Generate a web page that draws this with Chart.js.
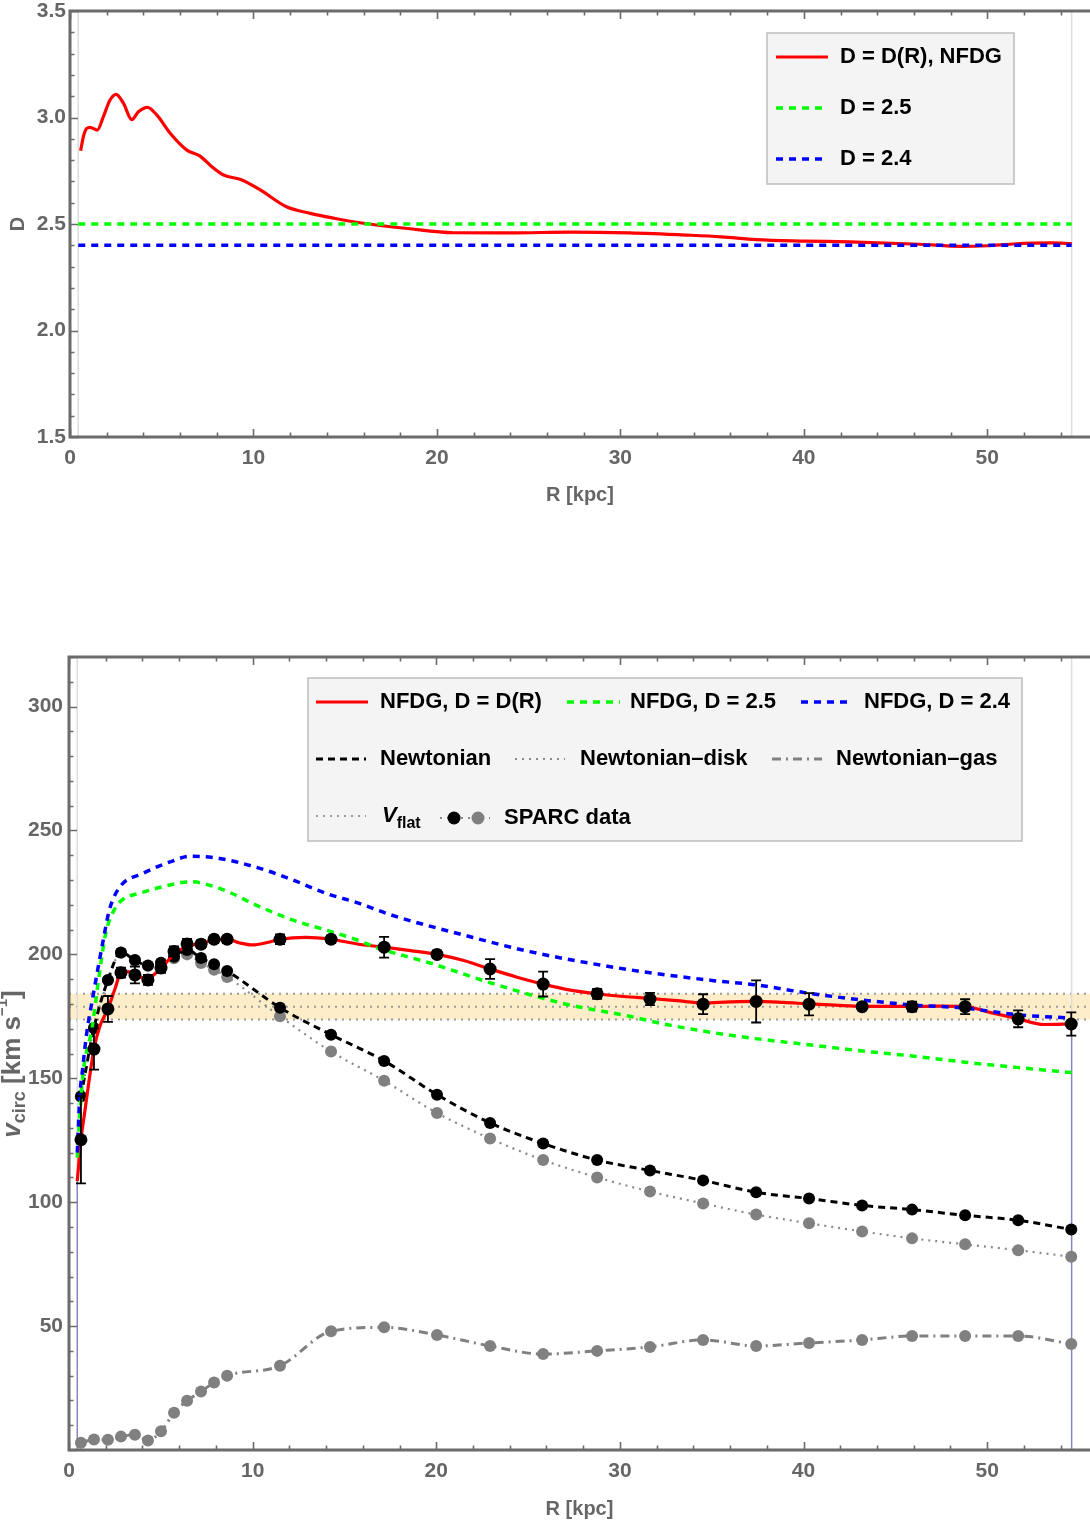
<!DOCTYPE html>
<html>
<head>
<meta charset="utf-8">
<script src="https://cdn.jsdelivr.net/npm/chart.js@4.4.0/dist/chart.umd.min.js"></script>
<style>
  html, body { margin: 0; padding: 0; background: #fff; }
  #wrap { position: relative; width: 1090px; height: 1526px; }
  .box { position: absolute; left: 0; width: 1090px; }
  #topBox { top: 0; height: 520px; }
  #botBox { top: 640px; height: 886px; }
</style>
</head>
<body>
<div id="wrap">
  <div class="box" id="topBox"><canvas id="dChart" width="1090" height="520"></canvas></div>
  <div class="box" id="botBox"><canvas id="vChart" width="1090" height="886"></canvas></div>
</div>
<script>
// ---- top panel: D(R) ----
const dCurveR = [0.58, 0.73, 0.91, 1.09, 1.49, 1.82, 2.18, 2.51, 2.91, 3.37, 3.73, 4.22, 4.73, 5.46, 6.37, 7.09, 7.73, 8.37,
  9.37, 10.37, 11.8, 13.1, 14.4, 15.8, 18.4, 20.9, 24.0, 27.3, 30.5, 33.6, 35.5, 37.4, 40.0, 42.5, 46.3, 48.6, 50.0, 51.4, 53.5, 54.6];
const dCurveD = [2.844, 2.91, 2.949, 2.954, 2.941, 3.004, 3.082, 3.109, 3.067, 2.99, 3.027, 3.048, 3.012, 2.926, 2.847, 2.819, 2.769, 2.730,
  2.707, 2.66, 2.581, 2.55, 2.527, 2.506, 2.479, 2.459, 2.458, 2.462, 2.458, 2.448, 2.44, 2.427, 2.42, 2.416, 2.405, 2.395, 2.398, 2.406, 2.411, 2.408];
const dFixed = [2.5, 2.4];
const rRange = [0.45, 54.6];   // radial range of the model curves [kpc]
const xMax = 55.6;

// ---- bottom panel: rotation curve ----
const sparcR = [0.65, 1.36, 2.12, 2.83, 3.59, 4.30, 5.01, 5.72, 6.43, 7.19, 7.90, 8.61,
  11.49, 14.27, 17.16, 20.04, 22.93, 25.82, 28.76, 31.64, 34.53, 37.42, 40.30, 43.19, 45.91, 48.80, 51.69, 54.58];
const vObs = [125.2, 161.8, 178.0, 192.6, 191.7, 189.7, 194.5, 201.2, 204.2, 204.1, 206.1, 206.1,
  206.1, 206.1, 202.9, 200.0, 194.1, 188.0, 184.1, 182.0, 179.9, 181.0, 179.9, 178.9, 178.9, 178.9, 174.0, 171.9];
const vErr = [17.6, 8.3, 5.2, 2.0, 3.4, 2.0, 2.0, 2.0, 2.0, 1.5, 1.5, 1.5,
  2.0, 1.5, 4.2, 1.5, 4.0, 5.0, 2.0, 2.5, 4.0, 8.5, 4.5, 1.0, 2.0, 3.0, 3.4, 4.7];
const vNewt = [142.7, 170.3, 189.7, 200.8, 197.7, 195.5, 196.6, 199.0, 201.8, 198.5, 196.0, 193.3,
  178.5, 167.6, 157.0, 143.4, 132.0, 123.7, 117.0, 112.8, 108.8, 104.0, 101.5, 98.7, 97.0, 94.7, 92.7, 89.0];
const vDisk = [142.6, 170.2, 189.6, 200.7, 197.6, 195.4, 196.4, 198.4, 200.0, 196.5, 193.8, 190.9,
  175.0, 160.8, 149.0, 136.0, 125.7, 117.0, 110.0, 104.3, 99.5, 95.0, 91.5, 88.2, 85.4, 83.0, 80.6, 78.0];
const vGas = [2.9, 4.2, 4.1, 5.4, 6.2, 3.8, 7.6, 15.0, 19.9, 23.6, 27.2, 30.0,
  34.0, 47.9, 49.5, 46.4, 42.0, 38.7, 40.0, 41.6, 44.4, 42.0, 43.2, 44.4, 46.0, 46.0, 46.0, 42.8];

const nfdgR = [0.45, 0.65, 0.85, 1.1, 1.36, 1.68, 2.12, 2.5, 2.83, 3.2, 3.59, 4.0, 4.30, 4.65, 5.01, 5.72, 6.43, 7.19, 7.90, 8.61,
  9.3, 10.0, 10.8, 11.49, 12.9, 14.27, 15.7, 17.16, 18.6, 20.04, 21.5, 22.93, 24.4, 25.82, 27.3, 28.76, 30.2, 31.64, 33.1,
  34.53, 36.0, 37.42, 38.9, 40.3, 41.7, 43.19, 45.91, 47.3, 48.8, 50.2, 51.69, 53.1, 54.6];
const nfdgV = [108.5, 125.2, 136.0, 149.4, 161.8, 171.0, 178.0, 186.0, 192.6, 193.0, 192.0, 190.5, 189.7, 192.0, 194.4, 200.0, 203.3, 204.4, 205.8, 206.1,
  204.6, 203.8, 204.8, 206.1, 206.9, 206.1, 204.2, 202.9, 201.5, 200.0, 197.5, 194.1, 190.8, 188.0, 185.6, 184.1, 183.0, 182.2, 181.3,
  180.4, 180.8, 181.0, 180.6, 180.0, 179.5, 179.0, 179.0, 179.1, 178.9, 176.5, 174.0, 171.7, 171.9];
const d25R = [0.45, 0.73, 1.27, 1.65, 2.0, 2.5, 2.9, 4.0, 5.5, 6.6, 8.2, 10.4, 12.2, 14.0, 15.7, 16.6, 19.7, 23.3, 26.9, 30.6,
  32.2, 35.0, 37.4, 40.3, 43.2, 45.9, 48.8, 51.7, 54.6];
const d25V = [118, 149.4, 171, 192, 208.5, 218.5, 222, 225, 228, 229.3, 226.6, 219.2, 213.8, 209.8, 205.8, 203.1, 196.4, 187.7, 180.2, 174.9,
  172.2, 168.5, 166.0, 163.5, 161.0, 159.0, 156.5, 154.3, 152.3];
const d24R = [0.45, 0.6, 0.7, 0.96, 1.28, 1.87, 2.2, 2.78, 4.0, 5.5, 6.6, 8.2, 10.4, 12.2, 14.0, 15.8, 17.5, 21.5, 25.1, 30.6,
  35.0, 37.4, 40.3, 43.2, 45.9, 48.8, 51.7, 54.6];
const d24V = [120, 144, 151, 168, 182, 206, 218, 227.3, 232.6, 237.3, 239.6, 238.7, 234.7, 230.0, 224.6, 220.6, 216.0, 207.8, 201.1, 193.7,
  189.5, 187.7, 184.3, 181.6, 179.6, 178.3, 175.6, 174.3];
const vFlat = 178.9, vFlatErr = 5.2;

const fam = "'Liberation Sans', Arial, sans-serif";
const tickFont = { family: fam, size: 21, weight: 'bold' };
const titleFont = { family: fam, size: 20, weight: 'bold' };
const legendFont = 'bold 22px ' + fam;
const grey = '#666666';
Chart.defaults.font.family = fam;

const pts = (xs, ys) => xs.map((x, i) => ({ x: x, y: ys[i] }));

function fitTo(size) {
  return function (scale) {
    if (scale.isHorizontal()) {
      scale.height = size; scale.paddingLeft = 0; scale.paddingRight = 0;
    } else {
      scale.width = size; scale.paddingTop = 0; scale.paddingBottom = 0;
    }
  };
}

function stepValues(min, max, step) {
  const out = [];
  const s = Math.ceil(min / step - 1e-9), e = Math.floor(max / step + 1e-9);
  for (let i = s; i <= e; i++) out.push(i * step);
  return out;
}
const isMajor = (v, m) => Math.abs(v / m - Math.round(v / m)) < 1e-6;

// frame and inward ticks, Mathematica style
const frame = {
  id: 'frame',
  afterDatasetsDraw(chart, args, o) {
    const { ctx, chartArea: a, scales: { x, y } } = chart;
    ctx.save();
    ctx.strokeStyle = '#6b6b6b';
    ctx.setLineDash([]);
    ctx.lineWidth = 1.6;
    ctx.beginPath();
    stepValues(x.min, x.max, o.xMinor).forEach(v => {
      const px = Math.round(x.getPixelForValue(v)) + 0.5;
      const len = isMajor(v, o.xMajor) ? 8 : 4.5;
      ctx.moveTo(px, a.bottom); ctx.lineTo(px, a.bottom - len);
      ctx.moveTo(px, a.top); ctx.lineTo(px, a.top + len);
    });
    stepValues(y.min, y.max, o.yMinor).forEach(v => {
      const py = Math.round(y.getPixelForValue(v)) + 0.5;
      const len = isMajor(v, o.yMajor) ? 8 : 4.5;
      ctx.moveTo(a.left, py); ctx.lineTo(a.left + len, py);
    });
    ctx.stroke();
    ctx.lineWidth = 3;
    ctx.beginPath();
    ctx.moveTo(a.right, a.top); ctx.lineTo(a.left, a.top);
    ctx.lineTo(a.left, a.bottom); ctx.lineTo(a.right, a.bottom);
    ctx.stroke();
    ctx.restore();
  }
};

// boxed legend drawn from dataset styles
const boxLegend = {
  id: 'boxLegend',
  afterDraw(chart, args, o) {
    const ctx = chart.ctx, ds = chart.data.datasets;
    ctx.save();
    ctx.fillStyle = '#f4f4f4';
    ctx.strokeStyle = '#bdbdbd';
    ctx.lineWidth = 1.5;
    ctx.fillRect(o.box[0], o.box[1], o.box[2], o.box[3]);
    ctx.strokeRect(o.box[0], o.box[1], o.box[2], o.box[3]);
    o.items.forEach(it => {
      const d = ds[it.line];
      ctx.save();
      ctx.strokeStyle = d.borderColor;
      ctx.lineWidth = d.borderWidth;
      ctx.setLineDash(d.borderDash || []);
      ctx.beginPath(); ctx.moveTo(it.x0, it.y); ctx.lineTo(it.x1, it.y); ctx.stroke();
      ctx.restore();
      (it.dots || []).forEach(p => {
        ctx.fillStyle = ds[p.ds].pointBackgroundColor;
        ctx.beginPath(); ctx.arc(p.x, it.y, 6.5, 0, 2 * Math.PI); ctx.fill();
      });
      ctx.fillStyle = '#000';
      ctx.textBaseline = 'middle';
      ctx.textAlign = 'left';
      if (it.sub) {
        ctx.font = 'italic ' + legendFont;
        ctx.fillText(it.sub[0], it.tx, it.y);
        const w = ctx.measureText(it.sub[0]).width;
        ctx.font = 'bold 16px ' + fam;
        ctx.fillText(it.sub[1], it.tx + w, it.y + 8);
      } else {
        ctx.font = legendFont;
        ctx.fillText(ds[it.text].label, it.tx, it.y);
      }
    });
    ctx.restore();
  }
};

// y title with sub/superscripts
const vTitle = {
  id: 'vTitle',
  afterDraw(chart, args, o) {
    if (!o.parts) return;
    const ctx = chart.ctx;
    ctx.save();
    let total = 0;
    o.parts.forEach(p => { ctx.font = p.f; p.w = ctx.measureText(p.t).width; total += p.w; });
    ctx.translate(o.x, o.y);
    ctx.rotate(-Math.PI / 2);
    ctx.fillStyle = grey;
    ctx.textBaseline = 'middle';
    ctx.textAlign = 'left';
    let cx = -total / 2;
    o.parts.forEach(p => { ctx.font = p.f; ctx.fillText(p.t, cx, p.dy); cx += p.w; });
    ctx.restore();
  }
};

// error bars on the observed points, drawn just before the points
const errBars = {
  id: 'errBars',
  beforeDatasetDraw(chart, args, o) {
    if (o.index === undefined || args.index !== o.index) return;
    const { ctx, scales: { x, y } } = chart;
    ctx.save();
    ctx.strokeStyle = '#000';
    ctx.lineWidth = 1.8;
    ctx.setLineDash([]);
    ctx.beginPath();
    sparcR.forEach((r, i) => {
      const px = x.getPixelForValue(r);
      const y1 = y.getPixelForValue(vObs[i] + vErr[i]);
      const y2 = y.getPixelForValue(vObs[i] - vErr[i]);
      ctx.moveTo(px, y1); ctx.lineTo(px, y2);
      ctx.moveTo(px - 5, y1); ctx.lineTo(px + 5, y1);
      ctx.moveTo(px - 5, y2); ctx.lineTo(px + 5, y2);
    });
    ctx.stroke();
    ctx.restore();
  }
};

function xAxis(h, titlePad) {
  return {
    type: 'linear', min: 0, max: xMax,
    grid: { display: false, drawTicks: false },
    border: { display: false },
    ticks: { stepSize: 10, includeBounds: false, autoSkip: false, maxRotation: 0, padding: 9,
      font: tickFont, color: grey, callback: v => String(v) },
    title: { display: true, text: 'R [kpc]', font: titleFont, color: grey, padding: { top: 0, bottom: titlePad } },
    afterFit: fitTo(h)
  };
}

// ---------- top chart ----------
new Chart(document.getElementById('dChart'), {
  type: 'line',
  data: {
    datasets: [
      { label: 'D = D(R), NFDG', data: pts(dCurveR, dCurveD), borderColor: '#ff0000', borderWidth: 3.2,
        pointRadius: 0, cubicInterpolationMode: 'monotone', order: 2 },
      { label: 'D = 2.5', data: pts(rRange, [dFixed[0], dFixed[0]]), borderColor: '#00ff00', borderWidth: 3.5,
        borderDash: [7, 6], pointRadius: 0, order: 1 },
      { label: 'D = 2.4', data: pts(rRange, [dFixed[1], dFixed[1]]), borderColor: '#0000ff', borderWidth: 3.5,
        borderDash: [7, 6], pointRadius: 0, order: 0 },
      { label: 'rmin', data: pts([rRange[0], rRange[0]], [1.5, 3.5]), borderColor: '#dddddd', borderWidth: 1.5,
        pointRadius: 0, order: 5 },
      { label: 'rmax', data: pts([rRange[1], rRange[1]], [1.5, 3.5]), borderColor: '#dddddd', borderWidth: 1.5,
        pointRadius: 0, order: 5 }
    ]
  },
  options: {
    responsive: false, animation: false,
    layout: { autoPadding: false, padding: { top: 11, left: 0, right: 0, bottom: 0 } },
    plugins: {
      legend: { display: false }, tooltip: { enabled: false },
      frame: { xMajor: 10, xMinor: 2, yMajor: 0.5, yMinor: 0.1 },
      boxLegend: {
        box: [767, 33, 247, 151],
        items: [
          { line: 0, text: 0, x0: 776, x1: 828, y: 57, tx: 840 },
          { line: 1, text: 1, x0: 776, x1: 828, y: 108, tx: 840 },
          { line: 2, text: 2, x0: 776, x1: 828, y: 159, tx: 840 }
        ]
      }
    },
    scales: {
      x: xAxis(83, 13),
      y: {
        type: 'linear', min: 1.5, max: 3.5,
        grid: { display: false, drawTicks: false },
        border: { display: false },
        ticks: { stepSize: 0.5, includeBounds: false, padding: 4, font: tickFont, color: grey,
          callback: v => v.toFixed(1) },
        title: { display: true, text: 'D', font: titleFont, color: grey, padding: { top: 6, bottom: 0 } },
        afterFit: fitTo(70)
      }
    }
  },
  plugins: [frame, boxLegend]
});

// ---------- bottom chart ----------
new Chart(document.getElementById('vChart'), {
  type: 'line',
  data: {
    datasets: [
      { label: 'NFDG, D = D(R)', data: pts(nfdgR, nfdgV), borderColor: '#ff0000', borderWidth: 3.2,
        pointRadius: 0, cubicInterpolationMode: 'monotone', order: 3 },
      { label: 'NFDG, D = 2.5', data: pts(d25R, d25V), borderColor: '#00ff00', borderWidth: 3.5,
        borderDash: [7, 6], pointRadius: 0, cubicInterpolationMode: 'monotone', order: 2 },
      { label: 'NFDG, D = 2.4', data: pts(d24R, d24V), borderColor: '#0000ff', borderWidth: 3.5,
        borderDash: [7, 6], pointRadius: 0, cubicInterpolationMode: 'monotone', order: 1 },
      { label: 'Newtonian', data: pts(sparcR, vNewt), borderColor: '#000000', borderWidth: 3,
        borderDash: [7, 5], pointRadius: 6, pointBorderWidth: 0, pointBackgroundColor: '#000000',
        cubicInterpolationMode: 'monotone', order: 4 },
      { label: 'Newtonian\u2013disk', data: pts(sparcR, vDisk), borderColor: '#8a8a8a', borderWidth: 2.2,
        borderDash: [2, 5], pointRadius: 6, pointBorderWidth: 0, pointBackgroundColor: '#808080',
        cubicInterpolationMode: 'monotone', order: 5 },
      { label: 'Newtonian\u2013gas', data: pts(sparcR, vGas), borderColor: '#808080', borderWidth: 3,
        borderDash: [9, 5, 2, 5], pointRadius: 6, pointBorderWidth: 0, pointBackgroundColor: '#808080',
        cubicInterpolationMode: 'monotone', order: 6 },
      { label: 'Vflat hi', data: pts([0, xMax], [vFlat + vFlatErr, vFlat + vFlatErr]), borderColor: '#9a9a9a',
        borderWidth: 2, borderDash: [2, 5], pointRadius: 0, fill: { value: vFlat - vFlatErr },
        backgroundColor: '#fdeec9', order: 9 },
      { label: 'Vflat', data: pts([0, xMax], [vFlat, vFlat]), borderColor: '#9a9a9a',
        borderWidth: 2, borderDash: [2, 5], pointRadius: 0, order: 8 },
      { label: 'Vflat lo', data: pts([0, xMax], [vFlat - vFlatErr, vFlat - vFlatErr]), borderColor: '#9a9a9a',
        borderWidth: 2, borderDash: [2, 5], pointRadius: 0, order: 8 },
      { label: 'SPARC data', data: pts(sparcR, vObs), showLine: false, pointRadius: 6.5, pointBorderWidth: 0,
        pointBackgroundColor: '#000000', borderColor: '#000000', order: -1 },
      { label: 'rmin', data: pts([rRange[0], rRange[0]], [0, nfdgV[0]]), borderColor: '#8585c8', borderWidth: 1.5,
        pointRadius: 0, order: 7 },
      { label: 'rmin top', data: pts([rRange[0], rRange[0]], [nfdgV[0], 320]), borderColor: '#dddddd', borderWidth: 1.5,
        pointRadius: 0, order: 7 },
      { label: 'rmax', data: pts([rRange[1], rRange[1]], [0, nfdgV[nfdgV.length - 1]]), borderColor: '#8585c8',
        borderWidth: 1.5, pointRadius: 0, order: 7 },
      { label: 'rmax top', data: pts([rRange[1], rRange[1]], [nfdgV[nfdgV.length - 1], 320]), borderColor: '#dddddd',
        borderWidth: 1.5, pointRadius: 0, order: 7 }
    ]
  },
  options: {
    responsive: false, animation: false,
    layout: { autoPadding: false, padding: { top: 17, left: 0, right: 0, bottom: 0 } },
    plugins: {
      legend: { display: false }, tooltip: { enabled: false },
      frame: { xMajor: 10, xMinor: 2, yMajor: 50, yMinor: 10 },
      errBars: { index: 9 },
      vTitle: {
        x: 13, y: 424,
        parts: [
          { t: 'v', f: 'italic bold 26px ' + fam, dy: 0 },
          { t: 'circ', f: 'bold 18px ' + fam, dy: 7 },
          { t: ' [km s', f: 'bold 26px ' + fam, dy: 0 },
          { t: '\u22121', f: 'bold 15px ' + fam, dy: -10 },
          { t: ']', f: 'bold 26px ' + fam, dy: 0 }
        ]
      },
      boxLegend: {
        box: [308, 38, 714, 163],
        items: [
          { line: 0, text: 0, x0: 316, x1: 368, y: 62, tx: 380 },
          { line: 1, text: 1, x0: 567, x1: 620, y: 62, tx: 630 },
          { line: 2, text: 2, x0: 801, x1: 853, y: 62, tx: 864 },
          { line: 3, text: 3, x0: 316, x1: 366, y: 119, tx: 380 },
          { line: 4, text: 4, x0: 515, x1: 565, y: 119, tx: 580 },
          { line: 5, text: 5, x0: 772, x1: 822, y: 119, tx: 836 },
          { line: 7, sub: ['V', 'flat'], x0: 316, x1: 366, y: 176, tx: 382 },
          { line: 4, text: 9, x0: 440, x1: 490, y: 178, tx: 504, dots: [{ ds: 9, x: 454 }, { ds: 4, x: 478 }] }
        ]
      }
    },
    scales: {
      x: xAxis(76, 5),
      y: {
        type: 'linear', min: 0, max: 320,
        grid: { display: false, drawTicks: false },
        border: { display: false },
        ticks: { stepSize: 50, includeBounds: false, padding: 6, font: tickFont, color: grey,
          callback: v => (v === 0 ? '' : String(v)) },
        afterFit: fitTo(69)
      }
    }
  },
  plugins: [frame, errBars, vTitle, boxLegend]
});
</script>
</body>
</html>
